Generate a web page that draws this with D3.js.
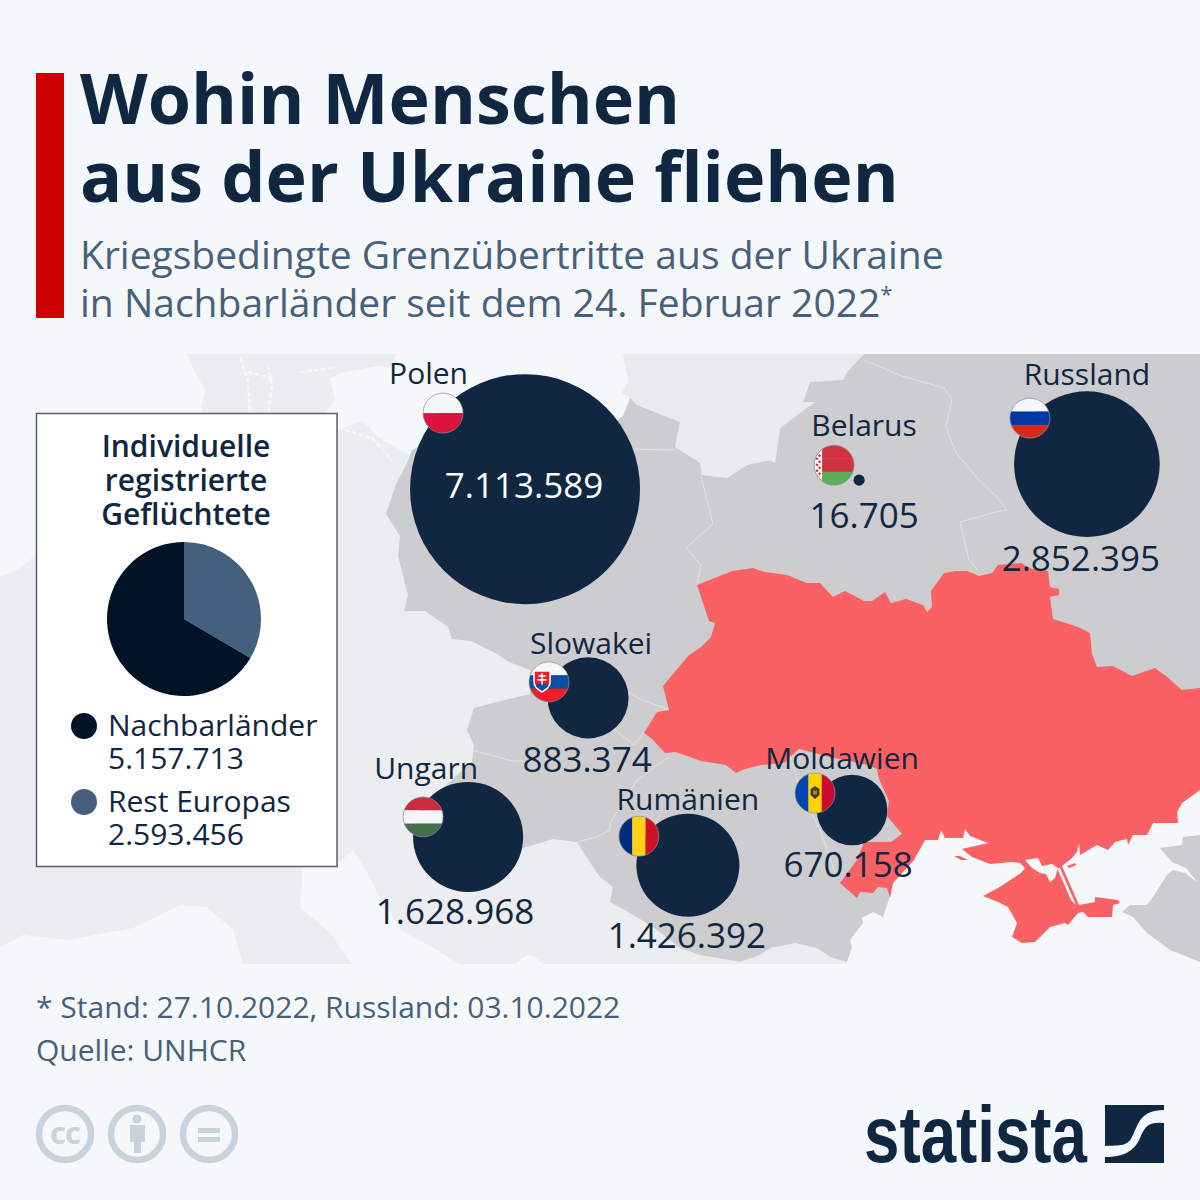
<!DOCTYPE html>
<html>
<head>
<meta charset="utf-8">
<script src="https://cdn.jsdelivr.net/npm/d3@7"></script>
<style>
  html, body { margin: 0; padding: 0; background: #f5f8fb; }
  svg { display: block; }
  text { font-family: "Open Sans", sans-serif; }
</style>
</head>
<body>
<script>
// bubble data
const countries = ["Polen", "Russland", "Belarus", "Slowakei", "Ungarn", "Rumänien", "Moldawien"];
const refugees = [7113589, 2852395, 16705, 883374, 1628968, 1426392, 670158];
const valueLabels = ["7.113.589", "2.852.395", "16.705", "883.374", "1.628.968", "1.426.392", "670.158"];
const lon = [18.57, 35.34, 28.54, 20.45, 16.87, 23.43, 28.33];
const lat = [54.01, 54.54, 54.20, 49.58, 46.63, 46.03, 47.20];

// pie data
const pieNames = ["Rest Europas", "Nachbarländer"];
const pieValues = [2593456, 5157713];
const pieLabels = ["2.593.456", "5.157.713"];

// label and flag offsets from the bubble centre
const nameDx = [-96.5, 0, 5, 3, -42, 0, -10];
const nameDy = [-105, -79, -44, -44, -58, -55, -41];
const valueDx = [-1, -6, 5, -1, -13, -1, -4];
const valueDy = [9, 107, 48, 74, 87, 83, 67];
const flagDx = [-82, -57, -25, -39, -45, -49, -37];
const flagDy = [-76, -46, -15, -16, -20, -29, -17];

// flag stripes
const flagDir = ["h", "h", "h", "h", "h", "v", "v"];
const flagColors = [
  ["#f5f6f8", "#dc143c"],
  ["#f5f6f8", "#0039a6", "#d52b1e"],
  ["#cf3340", "#cf3340", "#5cae5a"],
  ["#f5f6f8", "#0b4ea2", "#ee1c25"],
  ["#cd2a3e", "#f5f6f8", "#436f4d"],
  ["#002b7f", "#fcd116", "#ce1126"],
  ["#0046ae", "#ffd200", "#cc092f"]
];

// base map outlines, traced in map units
const westEurope = [[0,577],[20,568],[36,555],[200,480],[336,432],[362,420],[378,437],[405,453],[620,470],[700,800],[845,930],[847,964],[543,964],[535,957],[527,955],[515,964],[459,964],[432,947],[402,931],[383,903],[367,872],[353,850],[337,864],[302,868],[302,890],[300,907],[330,933],[352,964],[243,964],[233,930],[207,907],[180,905],[133,928],[67,940],[23,935],[0,947]];
const scandinavia = [[187,354],[397,354],[390,368],[378,366],[345,372],[330,378],[335,400],[325,414],[200,414],[205,390],[195,372]];
const baltics = [[623,354],[864,354],[847,372],[843,380],[810,382],[803,402],[815,402],[800,413],[780,428],[775,463],[770,460],[747,465],[727,478],[702,475],[700,463],[675,447],[680,422],[657,413],[637,405],[630,398],[622,393],[628,380]];
const neighbours = [[412,450],[430,440],[610,425],[623,416],[630,398],[637,405],[657,413],[680,422],[675,447],[700,463],[702,475],[727,478],[747,465],[770,460],[775,463],[780,428],[800,413],[815,402],[803,402],[810,382],[843,380],[847,372],[864,354],[1200,354],[1200,790],[1182,803],[1177,812],[1178,823],[1100,800],[900,800],[903,842],[893,880],[889,899],[887,905],[883,917],[873,912],[862,918],[863,923],[850,940],[852,947],[847,962],[830,957],[817,948],[795,943],[770,948],[760,955],[740,962],[700,955],[680,948],[657,930],[637,917],[610,902],[613,887],[600,877],[593,867],[577,842],[553,839],[523,848],[480,865],[430,840],[420,805],[451,781],[472,761],[474,745],[467,730],[474,708],[497,702],[530,694],[530,670],[509,662],[497,654],[471,641],[452,639],[448,627],[425,611],[404,611],[408,595],[398,556],[400,536],[386,514],[396,484],[406,465]];
const kuban = [[1200,835],[1183,837],[1182,845],[1160,848],[1172,862],[1186,868],[1198,883],[1185,873],[1173,870],[1167,875],[1153,897],[1147,905],[1130,905],[1122,912],[1133,917],[1147,933],[1170,950],[1200,962]];
const ukraine = [[697,585],[722,575],[732,571],[753,568],[765,572],[787,575],[807,583],[820,583],[833,597],[845,591],[864,601],[872,601],[885,592],[891,603],[906,599],[923,605],[927,612],[932,607],[931,591],[944,573],[956,571],[967,571],[979,576],[992,573],[998,565],[1021,563],[1032,569],[1048,571],[1050,587],[1059,589],[1059,595],[1050,597],[1053,619],[1078,627],[1090,633],[1092,654],[1097,667],[1113,666],[1132,676],[1155,668],[1166,676],[1182,690],[1200,688],[1210,690],[1210,785],[1200,790],[1182,803],[1177,812],[1178,823],[1153,823],[1147,835],[1133,835],[1128,845],[1127,839],[1115,842],[1108,850],[1097,845],[1080,855],[1079,843],[1077,852],[1072,858],[1062,866],[1079,905],[1095,902],[1095,897],[1103,898],[1118,900],[1120,903],[1113,905],[1112,917],[1088,917],[1083,912],[1078,913],[1068,925],[1065,923],[1050,927],[1035,942],[1022,943],[1012,937],[1017,923],[1008,907],[998,902],[983,896],[998,888],[1021,873],[1025,868],[1020,863],[1012,862],[990,864],[972,857],[962,849],[988,843],[970,836],[965,829],[963,838],[945,838],[941,830],[938,840],[925,840],[914,860],[893,883],[890,898],[887,888],[878,887],[873,893],[860,892],[857,898],[840,883],[857,860],[864,842],[891,842],[902,834],[887,816],[889,801],[879,779],[877,769],[868,765],[830,757],[799,749],[784,763],[761,765],[745,769],[736,773],[726,765],[701,761],[676,752],[665,753],[652,739],[644,733],[657,712],[669,710],[663,686],[688,656],[701,647],[711,637],[715,623],[709,621],[703,603]];
const tendra = [[954,856],[960,856],[968,860],[961,860]];
const azovSliver = [[1067,866],[1075,863],[1076,865],[1069,868]];
const sivash = [[1025,860],[1038,858],[1042,866],[1052,864],[1058,868],[1055,878],[1050,882],[1046,874],[1040,873],[1032,868]];
const arabat = [[1057,868],[1060,868],[1076,905],[1071,900]];
const seaChannels = [
  [[240,358],[248,380],[250,414]],
  [[268,365],[272,385],[268,414]],
  [[248,372],[272,378]],
  [[300,372],[335,368]],
  [[345,430],[372,438],[392,460]]
];
const borders = [
  [[864,360],[902,376],[944,388],[952,399],[946,427],[956,453],[979,480],[998,498],[1007,510],[996,512],[960,522],[969,560],[977,569]],
  [[701,476],[713,524],[686,548],[701,565],[697,585]],
  [[633,449],[670,450],[675,449]],
  [[629,692],[638,698],[669,710]],
  [[600,726],[615,730],[634,745],[644,733]],
  [[471,750],[513,761],[524,761]],
  [[669,757],[637,780],[610,823],[610,830],[597,837],[577,842]],
  [[790,755],[800,790],[820,830],[837,878]]
];

const width = 1200, height = 1200;
const navy = "#0f2741", slate = "#47607c", paper = "#f5f8fb";

const svg = d3.select("body").append("svg")
    .attr("width", width)
    .attr("height", height)
    .attr("viewBox", "0 0 1200 1200");

svg.append("rect").attr("width", width).attr("height", height).attr("fill", paper);

// header
svg.append("rect").attr("x", 36).attr("y", 73).attr("width", 28).attr("height", 245).attr("fill", "#cc0000");

const header = [
  ["Wohin Menschen", 124, 70, 700, navy],
  ["aus der Ukraine fliehen", 202, 70, 700, navy],
  ["Kriegsbedingte Grenzübertritte aus der Ukraine", 269, 39, 400, slate]
];
svg.selectAll("text.header").data(header).enter().append("text")
    .attr("class", "header")
    .attr("x", 80)
    .attr("y", (d) => d[1])
    .attr("font-size", (d) => d[2])
    .attr("font-weight", (d) => d[3])
    .attr("fill", (d) => d[4])
    .text((d) => d[0]);

const sub2 = svg.append("text").attr("x", 80).attr("y", 317).attr("font-size", 39).attr("fill", slate)
    .text("in Nachbarländer seit dem 24. Februar 2022");
sub2.append("tspan").attr("font-size", 22).attr("dy", -15).text("*");

// map
const defs = svg.append("defs");
defs.append("clipPath").attr("id", "mapClip").append("rect")
    .attr("x", 0).attr("y", 354).attr("width", width).attr("height", 610);

const map = svg.append("g").attr("clip-path", "url(#mapClip)");
const outline = d3.line();

const shapes = [
  [westEurope, "#ebedf0"], [scandinavia, "#ebedf0"], [baltics, "#e9ebee"],
  [neighbours, "#cdcdcf"], [kuban, "#cdcdcf"], [ukraine, "#f96164"],
  [sivash, paper], [arabat, paper], [tendra, "#f96164"], [azovSliver, "#f96164"]
];
map.selectAll("path.land").data(shapes).enter().append("path")
    .attr("class", "land")
    .attr("d", (d) => outline(d[0]) + "Z")
    .attr("fill", (d) => d[1]);

map.selectAll("path.channel").data(seaChannels).enter().append("path")
    .attr("class", "channel")
    .attr("d", outline)
    .attr("fill", "none")
    .attr("stroke", paper)
    .attr("stroke-width", 2.5)
    .attr("stroke-dasharray", "5 2");

map.selectAll("path.border").data(borders).enter().append("path")
    .attr("class", "border")
    .attr("d", outline)
    .attr("fill", "none")
    .attr("stroke", "#e6e8ec")
    .attr("stroke-opacity", 0.75)
    .attr("stroke-width", 1);

// bubbles
const x = d3.scaleLinear().domain([22.15, 34]).range([645, 1042]);
const y = d3.scaleLinear().domain([44.4, 52.4]).range([942, 565]);
const r = d3.scaleSqrt().domain([0, d3.max(refugees)]).range([0, 115]);

const idx = d3.range(countries.length);

svg.selectAll("circle.bubble").data(idx).enter().append("circle")
    .attr("class", "bubble")
    .attr("cx", (i) => x(lon[i]))
    .attr("cy", (i) => y(lat[i]))
    .attr("r", (i) => r(refugees[i]))
    .attr("fill", navy);

// flags
const flagR = 20;
const flag = svg.selectAll("g.flag").data(idx).enter().append("g")
    .attr("class", "flag")
    .attr("transform", (i) => `translate(${x(lon[i]) + flagDx[i]},${y(lat[i]) + flagDy[i]})`);

flag.append("clipPath").attr("id", (i) => "flagClip" + i).append("circle").attr("r", flagR);

const stripes = flag.append("g").attr("clip-path", (i) => `url(#flagClip${i})`);
stripes.selectAll("rect").data((i) => flagColors[i].map((c, k) => ({c: c, k: k, n: flagColors[i].length, dir: flagDir[i]})))
  .enter().append("rect")
    .attr("x", (d) => d.dir == "v" ? -flagR + d.k * 2 * flagR / d.n : -flagR)
    .attr("y", (d) => d.dir == "h" ? -flagR + d.k * 2 * flagR / d.n : -flagR)
    .attr("width", (d) => d.dir == "v" ? 2 * flagR / d.n + 0.3 : 2 * flagR)
    .attr("height", (d) => d.dir == "h" ? 2 * flagR / d.n + 0.3 : 2 * flagR)
    .attr("fill", (d) => d.c);

flag.append("circle").attr("r", flagR).attr("fill", "none").attr("stroke", "#8a8f95").attr("stroke-width", 0.7);

// Belarus hoist ornament
const byFlag = stripes.filter((i) => countries[i] == "Belarus");
byFlag.append("rect").attr("x", -flagR).attr("y", -flagR).attr("width", 8).attr("height", 2 * flagR).attr("fill", "#f5f6f8");
byFlag.selectAll("path").data(d3.range(14)).enter().append("path")
    .attr("d", (k) => `M${k % 2 ? -14.5 : -17},${-20 + k * 3}l1.6,1.6l-1.6,1.6l-1.6,-1.6z`)
    .attr("fill", "#cf3340");

// Slovak shield
const skFlag = stripes.filter((i) => countries[i] == "Slowakei");
skFlag.append("path").attr("d", "M-15,-11H1V0C1,6 -4,8 -7,10C-10,8 -15,6 -15,0Z")
    .attr("fill", "#ee1c25").attr("stroke", "#f5f6f8").attr("stroke-width", 1.6);
skFlag.append("path").attr("d", "M-7,-9V3M-10.5,-6H-3.5M-11.5,-2H-2.5")
    .attr("stroke", "#f5f6f8").attr("stroke-width", 1.6).attr("fill", "none");
skFlag.append("path").attr("d", "M-13.5,4Q-10,0 -7,3Q-4,0 -0.5,4Q-4,7 -7,9Q-10,7 -13.5,4Z").attr("fill", "#0b4ea2");

// Moldovan emblem
const mdFlag = stripes.filter((i) => countries[i] == "Moldawien");
mdFlag.append("path").attr("d", "M0,-7L4.5,-4V2L0,6L-4.5,2V-4Z").attr("fill", "#4b3b18");
mdFlag.append("rect").attr("x", -2).attr("y", -2.5).attr("width", 4).attr("height", 4).attr("fill", "#a9832b");

// country names and values
svg.selectAll("text.name").data(idx).enter().append("text")
    .attr("class", "name")
    .attr("x", (i) => x(lon[i]) + nameDx[i])
    .attr("y", (i) => y(lat[i]) + nameDy[i])
    .attr("text-anchor", "middle")
    .attr("font-size", 30)
    .attr("fill", navy)
    .text((i) => countries[i]);

svg.selectAll("text.value").data(idx).enter().append("text")
    .attr("class", "value")
    .attr("x", (i) => x(lon[i]) + valueDx[i])
    .attr("y", (i) => y(lat[i]) + valueDy[i])
    .attr("text-anchor", "middle")
    .attr("font-size", 35)
    .attr("fill", (i) => i == 0 ? "#ffffff" : navy)
    .text((i) => valueLabels[i]);

// legend box with pie
svg.append("rect").attr("x", 36.5).attr("y", 413.5).attr("width", 300.5).attr("height", 453)
    .attr("fill", "#ffffff").attr("stroke", "#5a5f66").attr("stroke-width", 1.5);

svg.selectAll("text.boxTitle").data(["Individuelle", "registrierte", "Geflüchtete"]).enter().append("text")
    .attr("class", "boxTitle")
    .attr("x", 186)
    .attr("y", (d, i) => 457 + i * 34)
    .attr("text-anchor", "middle")
    .attr("font-size", 30)
    .attr("font-weight", 600)
    .attr("fill", navy)
    .text((d) => d);

const pieColor = d3.scaleOrdinal().domain(pieNames).range(["#45607d", "#001327"]);
const arcs = d3.pie().sort(null)(pieValues);
const arc = d3.arc().innerRadius(0).outerRadius(77);

svg.append("g").attr("transform", "translate(184,619)")
  .selectAll("path").data(arcs).enter().append("path")
    .attr("d", arc)
    .attr("fill", (d, i) => pieColor(pieNames[i]));

// legend order is reversed compared to the slices
const legendOrder = [1, 0];
const legend = svg.selectAll("g.legend").data(legendOrder).enter().append("g")
    .attr("class", "legend")
    .attr("transform", (d, i) => `translate(0,${i * 76})`);

legend.append("circle").attr("cx", 84).attr("cy", 726).attr("r", 13).attr("fill", (d) => pieColor(pieNames[d]));
legend.append("text").attr("x", 108).attr("y", 736).attr("font-size", 30).attr("fill", navy).text((d) => pieNames[d]);
legend.append("text").attr("x", 108).attr("y", 769).attr("font-size", 30).attr("fill", navy).text((d) => pieLabels[d]);

// footer
svg.append("text").attr("x", 36).attr("y", 1018).attr("font-size", 30).attr("fill", slate)
    .text("* Stand: 27.10.2022, Russland: 03.10.2022");
svg.append("text").attr("x", 36).attr("y", 1061).attr("font-size", 30).attr("fill", slate)
    .text("Quelle: UNHCR");

// licence icons
const ccColor = "#c8d3dd";
svg.selectAll("circle.cc").data([65, 137, 209]).enter().append("circle")
    .attr("class", "cc")
    .attr("cx", (d) => d).attr("cy", 1134).attr("r", 26)
    .attr("fill", "none").attr("stroke", ccColor).attr("stroke-width", 6.5);
svg.append("text").attr("x", 65).attr("y", 1144).attr("text-anchor", "middle")
    .attr("font-size", 31).attr("font-weight", 700).attr("letter-spacing", -1).attr("fill", ccColor).text("cc");
svg.append("circle").attr("cx", 137).attr("cy", 1119).attr("r", 4.5).attr("fill", ccColor);
svg.append("path").attr("d", "M130,1125H145V1142H141V1153H134V1142H130Z").attr("fill", ccColor);
svg.append("path").attr("d", "M198,1128H220V1133H198ZM198,1137H220V1142H198Z").attr("fill", ccColor);

// statista logo
svg.append("text").attr("x", 864).attr("y", 1162)
    .style("font-family", "'Liberation Sans Narrow', 'Liberation Sans'")
    .attr("font-size", 80).attr("font-weight", 700)
    .attr("textLength", 223).attr("lengthAdjust", "spacingAndGlyphs")
    .attr("fill", navy).text("statista");
svg.append("path")
    .attr("d", "M1105,1105H1164V1163H1105Z")
    .attr("fill", navy);
svg.append("path")
    .attr("d", "M1164,1110C1140,1110 1138,1125 1133,1135C1128,1147 1120,1145 1105,1146L1105,1157C1125,1157 1135,1150 1140,1138C1146,1124 1150,1122 1164,1123Z")
    .attr("fill", paper);
</script>
</body>
</html>
